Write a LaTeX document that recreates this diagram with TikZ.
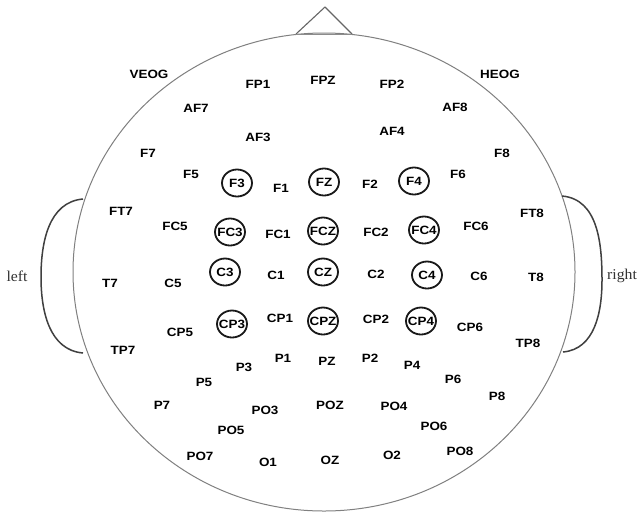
\documentclass[tikz,border=0pt]{standalone}
\usepackage{fontspec}
\newfontfamily\labfont[FakeStretch=1.12]{Liberation Sans}
\newfontfamily\sidefont[FakeStretch=1.05]{Liberation Serif}
\usetikzlibrary{shapes.geometric}
\begin{document}
\begin{tikzpicture}[x=1pt,y=-1pt,
  lab/.style={font=\labfont\bfseries\fontsize{12}{12}\selectfont, inner sep=0pt, text=black},
  ringline/.style={draw=black!90, line width=1.8pt},
  headline/.style={draw=black!50, line width=1pt},
  earline/.style={draw=black!75, line width=1.5pt},
  side/.style={font=\sidefont\fontsize{15}{16}\selectfont, inner sep=0pt, text=black!80}]
\useasboundingbox (0,0) rectangle (639,517);
\fill[white] (0,0) rectangle (639,517);
% head
\draw[headline] (324,272) ellipse [x radius=251, y radius=239];
% nose
\coordinate (nl) at (296,34);
\coordinate (nt) at (325,7);
\coordinate (nr) at (352,34);
\draw[draw=black!60, line width=1.1pt, line join=round] (nl) -- (nt) -- (nr);
\draw[draw=black!45, line width=0.8pt] (nl) -- (nr);
% ears
\coordinate (le1) at (83,199);
\coordinate (le2) at (41,277);
\coordinate (le3) at (83,353);
\draw[earline] (le1) to[out=185,in=90] (le2) to[out=-90,in=175] (le3);
\coordinate (re1) at (562,196);
\coordinate (re2) at (602,280);
\coordinate (re3) at (563,352);
\draw[earline] (re1) to[out=-5,in=90] (re2) to[out=-90,in=5] (re3);
\node[side] (left) at (17,276) {left};
\node[side, anchor=west] (right) at (607,276) {right};
% electrodes
\node[lab] (VEOG) at (149,74) {VEOG};
\node[lab] (FP1) at (258,84) {FP1};
\node[lab] (FPZ) at (323,80) {FPZ};
\node[lab] (FP2) at (392,84) {FP2};
\node[lab] (HEOG) at (500,74) {HEOG};
\node[lab] (AF7) at (196,108) {AF7};
\node[lab] (AF8) at (455,107) {AF8};
\node[lab] (AF3) at (258,137) {AF3};
\node[lab] (AF4) at (392,131) {AF4};
\node[lab] (F7) at (148,153) {F7};
\node[lab] (F8) at (502,153) {F8};
\node[lab] (F5) at (191,174) {F5};
\node[lab] (F3) at (237,183) {F3};
\node[lab] (F1) at (281,188) {F1};
\node[lab] (FZ) at (324,182) {FZ};
\node[lab] (F2) at (370,184) {F2};
\node[lab] (F4) at (414,181) {F4};
\node[lab] (F6) at (458,174) {F6};
\node[lab] (FT7) at (121,211) {FT7};
\node[lab] (FC5) at (175,226) {FC5};
\node[lab] (FC3) at (230,232) {FC3};
\node[lab] (FC1) at (278,234) {FC1};
\node[lab] (FCZ) at (323,231) {FCZ};
\node[lab] (FC2) at (376,232) {FC2};
\node[lab] (FC4) at (424,230) {FC4};
\node[lab] (FC6) at (476,226) {FC6};
\node[lab] (FT8) at (532,213) {FT8};
\node[lab] (T7) at (110,283) {T7};
\node[lab] (C5) at (173,283) {C5};
\node[lab] (C3) at (225,272) {C3};
\node[lab] (C1) at (276,275) {C1};
\node[lab] (CZ) at (323,272) {CZ};
\node[lab] (C2) at (376,274) {C2};
\node[lab] (C4) at (427,275) {C4};
\node[lab] (C6) at (479,276) {C6};
\node[lab] (T8) at (536,277) {T8};
\node[lab] (CP3) at (232,324) {CP3};
\node[lab] (CP1) at (280,318) {CP1};
\node[lab] (CPZ) at (323,321) {CPZ};
\node[lab] (CP2) at (376,319) {CP2};
\node[lab] (CP4) at (421,321) {CP4};
\node[lab] (CP5) at (180,332) {CP5};
\node[lab] (CP6) at (470,327) {CP6};
\node[lab] (TP7) at (123,350) {TP7};
\node[lab] (TP8) at (528,343) {TP8};
\node[lab] (P1) at (283,358) {P1};
\node[lab] (P3) at (244,367) {P3};
\node[lab] (PZ) at (327,361) {PZ};
\node[lab] (P2) at (370,358) {P2};
\node[lab] (P4) at (412,365) {P4};
\node[lab] (P5) at (204,382) {P5};
\node[lab] (P6) at (453,379) {P6};
\node[lab] (P7) at (162,405) {P7};
\node[lab] (P8) at (497,396) {P8};
\node[lab] (PO3) at (265,410) {PO3};
\node[lab] (POZ) at (330,405) {POZ};
\node[lab] (PO4) at (394,406) {PO4};
\node[lab] (PO5) at (231,430) {PO5};
\node[lab] (PO6) at (434,426) {PO6};
\node[lab] (PO7) at (200,456) {PO7};
\node[lab] (O1) at (268,462) {O1};
\node[lab] (OZ) at (330,460) {OZ};
\node[lab] (O2) at (392,455) {O2};
\node[lab] (PO8) at (460,451) {PO8};
% rings round the marked electrodes
\foreach \n in {F3,FZ,F4,FC3,FCZ,FC4,C3,CZ,C4,CP3,CPZ,CP4}
  \draw[ringline] (\n.center) ellipse [x radius=15, y radius=13.5];
\end{tikzpicture}
\end{document}
